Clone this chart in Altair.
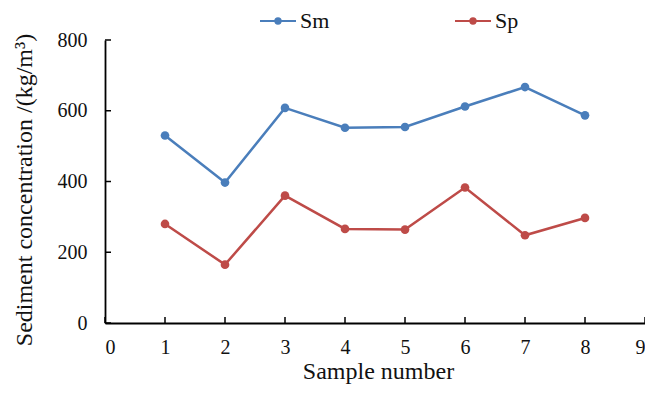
import altair as alt
import pandas as pd

samples = [1, 2, 3, 4, 5, 6, 7, 8]
sm_values = [530, 397, 608, 552, 554, 612, 667, 587]
sp_values = [280, 165, 360, 266, 264, 383, 248, 297]
series_names = ["Sm", "Sp"]
series_colors = ["#4A7EBB", "#BE4B48"]
x_ticks = [0, 1, 2, 3, 4, 5, 6, 7, 8, 9]
y_ticks = [0, 200, 400, 600, 800]

df = pd.DataFrame({
    "Sample": samples * 2,
    "Value": sm_values + sp_values,
    "Series": ["Sm"] * len(samples) + ["Sp"] * len(samples),
})

W, H = 540, 283
FONT = "Liberation Serif"

x_scale = alt.Scale(domain=[0, 9], nice=False, zero=False)
y_scale = alt.Scale(domain=[0, 800], nice=False)
color_scale = alt.Scale(domain=series_names, range=series_colors)

legend_symbol = "M-2,0L2,0M-0.3,0A0.3,0.3,0,1,1,0.3,0A0.3,0.3,0,1,1,-0.3,0Z"

x_enc = alt.X("Sample:Q", scale=x_scale,
              axis=alt.Axis(values=x_ticks, format="d", title="Sample number",
                            ticks=False, grid=False, labelPadding=14, titlePadding=2,
                            titleX=273))
y_enc = alt.Y("Value:Q", scale=y_scale,
              axis=alt.Axis(values=y_ticks, format="d", title="Sediment concentration  /(kg/m³)",
                            ticks=False, grid=False, labelPadding=18, titlePadding=21,
                            titleY=H / 2 + 8))
color_enc = alt.Color("Series:N", scale=color_scale,
                      legend=alt.Legend(title=None, orient="none", direction="horizontal",
                                        legendX=162, legendY=-30, symbolType=legend_symbol,
                                        symbolSize=324, symbolStrokeWidth=2,
                                        columnPadding=121, labelFontSize=22, labelFont=FONT,
                                        labelColor="#111", labelOffset=11))

base = alt.Chart(df)
lines = base.mark_line(strokeWidth=2.5).encode(x=x_enc, y=y_enc, color=color_enc)
points = base.mark_point(filled=True, size=75, opacity=1).encode(x=x_enc, y=y_enc, color=color_enc)

xt = pd.DataFrame({"t": x_ticks})
yt = pd.DataFrame({"t": y_ticks})
x_tick_marks = alt.Chart(xt).mark_rule(color="black", strokeWidth=1.5).encode(
    x=alt.X("t:Q", scale=x_scale), y=alt.value(H), y2=alt.value(H - 6))
y_tick_marks = alt.Chart(yt).mark_rule(color="black", strokeWidth=1.5).encode(
    y=alt.Y("t:Q", scale=y_scale), x=alt.value(0), x2=alt.value(6))

chart = alt.layer(lines, points, x_tick_marks, y_tick_marks).properties(
    width=W, height=H,
    background="white",
    autosize=alt.AutoSizeParams(type="none"),
    padding={"left": 97, "top": 32, "right": 0, "bottom": 63},
).configure_view(stroke=None).configure_axis(
    domainColor="black", domainWidth=1.8,
    labelFont=FONT, labelFontSize=20, labelColor="#111",
    titleFont=FONT, titleFontSize=24, titleFontWeight="normal", titleColor="#111",
)

chart.save("out.html", embed_options={"renderer": "svg", "actions": False})
